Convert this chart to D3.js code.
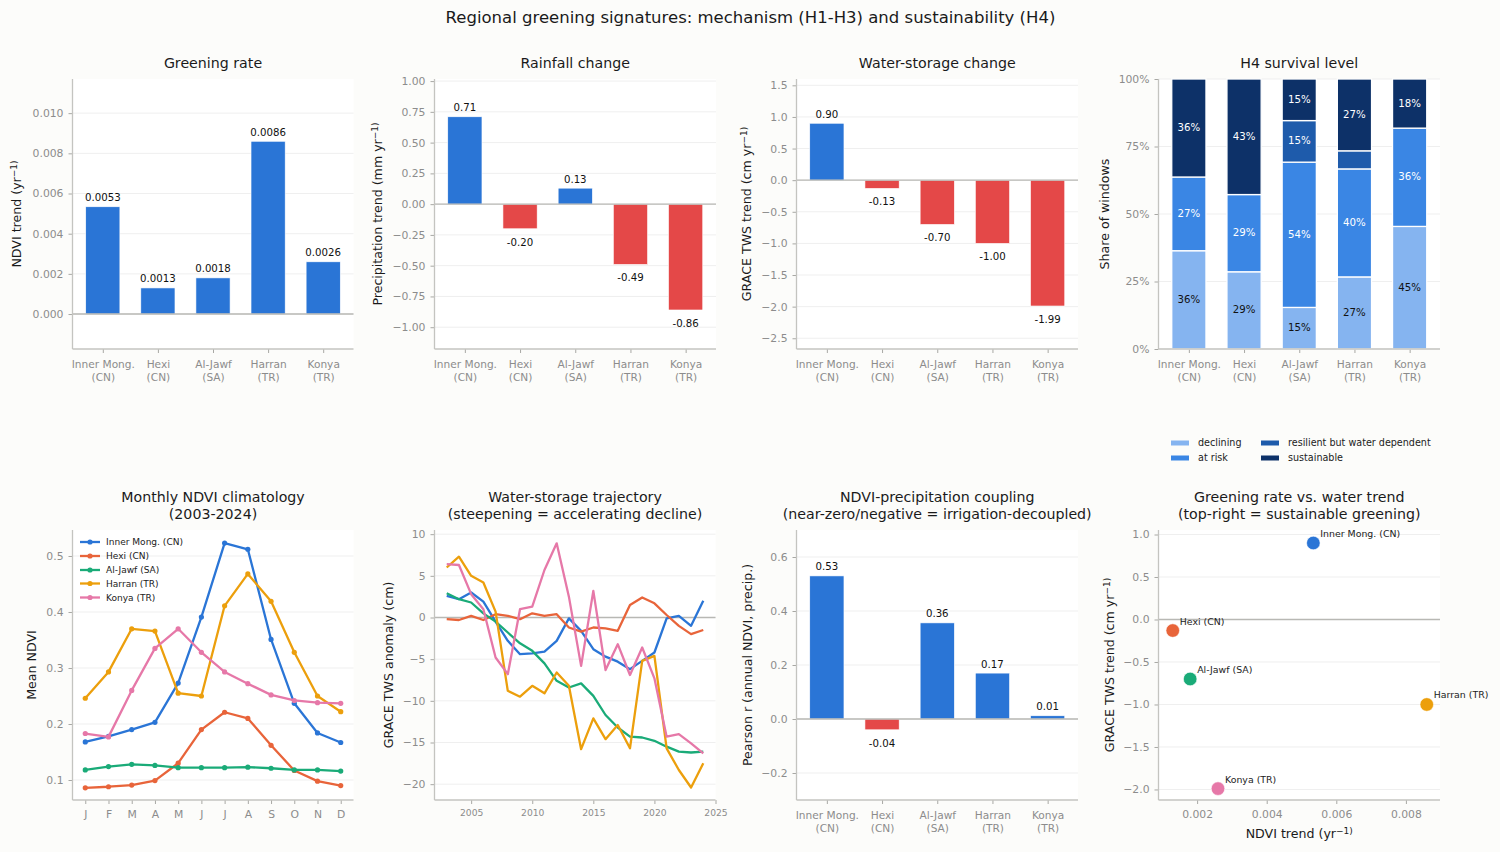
<!DOCTYPE html>
<html><head><meta charset="utf-8">
<script src="https://cdn.jsdelivr.net/npm/d3@7/dist/d3.min.js"></script>
<style>html,body{margin:0;padding:0;background:#fcfcfa}svg{display:block}text{font-family:"DejaVu Sans",sans-serif}</style>
</head><body><svg id="c" width="1500" height="852"></svg>
<script>
const regions = ["Inner Mong.\n(CN)","Hexi\n(CN)","Al-Jawf\n(SA)","Harran\n(TR)","Konya\n(TR)"];
const regionNames = ["Inner Mong. (CN)","Hexi (CN)","Al-Jawf (SA)","Harran (TR)","Konya (TR)"];
const regionColors = ["#2a75d6","#e8643a","#1aab78","#ec9f0c","#e678a8"];
const ndviTrend = [0.00534,0.0013,0.0018,0.0086,0.0026];
const precipTrend = [0.71,-0.20,0.13,-0.49,-0.86];
const twsTrend = [0.90,-0.13,-0.70,-1.00,-1.99];
const coupling = [0.53,-0.04,0.356,0.17,0.012];
const survivalLevels = ["declining","at risk","resilient but water dependent","sustainable"];
const survivalColors = ["#85b4f0","#3a86e4","#1e5bab","#0d3168"];
const declining = [36.4,28.6,15.4,26.7,45.4];
const atRisk = [27.3,28.6,53.8,40.0,36.4];
const resilient = [0,0,15.4,6.7,0];
const sustainable = [36.3,42.8,15.4,26.6,18.2];
const months = ["J","F","M","A","M","J","J","A","S","O","N","D"];
const ndviInner = [.168,.178,.190,.203,.273,.391,.523,.512,.351,.237,.184,.167];
const ndviHexi = [.086,.088,.091,.099,.130,.190,.221,.210,.162,.117,.098,.090];
const ndviJawf = [.118,.124,.128,.126,.122,.122,.122,.123,.121,.118,.118,.116];
const ndviHarran = [.246,.293,.370,.366,.255,.250,.411,.468,.419,.328,.250,.222];
const ndviKonya = [.183,.177,.260,.335,.370,.328,.293,.272,.252,.242,.238,.237];
const years = d3.range(2003,2025);
const twsInner = [2.6,2.2,3.0,1.9,-0.5,-2.8,-4.4,-4.3,-4.1,-2.8,-0.1,-1.6,-3.8,-4.7,-5.3,-6.2,-5.2,-4.2,-0.1,0.2,-1.0,2.0];
const twsHexi = [-0.2,-0.3,0.2,-0.3,0.4,0.2,-0.2,0.5,0.2,0.4,-1.2,-1.7,-1.2,-1.3,-1.6,1.5,2.4,1.7,0.3,-1.0,-2.0,-1.5];
const twsJawf = [2.9,2.2,1.8,0.5,-0.5,-1.8,-3.1,-4.0,-5.5,-7.6,-8.4,-7.9,-9.4,-11.7,-13.2,-14.3,-14.4,-14.8,-15.5,-16.1,-16.2,-16.1];
const twsHarran = [6.0,7.3,5.0,4.2,0.7,-8.8,-9.5,-8.2,-9.1,-6.6,-8.2,-15.8,-12.1,-14.6,-12.9,-15.7,-5.2,-4.6,-15.7,-18.3,-20.4,-17.5];
const twsKonya = [6.4,6.3,2.8,1.0,-4.8,-6.8,1.0,1.3,5.7,8.9,2.5,-5.8,3.2,-6.3,-3.2,-6.9,-3.6,-7.3,-14.3,-14.0,-15.1,-16.3];
const ticksNdvi = [0,.002,.004,.006,.008,.010];
const ticksPrecip = [-1,-.75,-.5,-.25,0,.25,.5,.75,1];
const ticksTws = [-2.5,-2,-1.5,-1,-.5,0,.5,1,1.5];
const ticksShare = [0,25,50,75,100];
const ticksClim = [.1,.2,.3,.4,.5];
const ticksAnom = [-20,-15,-10,-5,0,5,10];
const ticksYear = [2005,2010,2015,2020,2025];
const ticksCoup = [-.2,0,.2,.4,.6];
const ticksScatX = [.002,.004,.006,.008];
const ticksScatY = [-2,-1.5,-1,-.5,0,.5,1];

const GRAY="#8c8c8c", SPINE="#c4c4c0", GRID="#efefef", ZERO="#b8b8b4", INK="#1a1a1a";
const svg=d3.select("#c");
svg.append("rect").attr("width",1500).attr("height",852).attr("fill","#fcfcfa");
svg.append("text").attr("x",750.5).attr("y",22.5).attr("text-anchor","middle").attr("font-size",16.5).attr("fill",INK)
  .text("Regional greening signatures: mechanism (H1-H3) and sustainability (H4)");

function panel(cfg){
  const {x0,x1,y0,y1,xDom,yDom,yTicks,yFmt,title,ylab,ylabX}=cfg;
  const g=svg.append("g");
  g.append("rect").attr("x",x0).attr("y",y0).attr("width",x1-x0).attr("height",y1-y0).attr("fill","#fff");
  const x=d3.scaleLinear().domain(xDom).range([x0,x1]);
  const y=d3.scaleLinear().domain(yDom).range([y1,y0]);
  g.append("g").selectAll("line").data(yTicks).join("line")
    .attr("x1",x0).attr("x2",x1).attr("y1",d=>y(d)).attr("y2",d=>y(d)).attr("stroke",GRID).attr("stroke-width",1);
  const ax=g.append("g").attr("transform",`translate(${x0},0)`)
    .call(d3.axisLeft(y).tickValues(yTicks).tickFormat(yFmt).tickSize(4).tickPadding(5));
  const bx=g.append("g").attr("transform",`translate(0,${y1})`);
  const lines=title.split("\n");
  lines.forEach((t,i)=>g.append("text").attr("x",(x0+x1)/2).attr("y",(lines.length==1?y0-11.5:y0-28+i*17)).attr("text-anchor","middle")
     .attr("font-size",14.2).attr("fill",INK).text(t));
  const yl=g.append("text").attr("transform",`translate(${ylabX},${(y0+y1)/2}) rotate(-90)`).attr("text-anchor","middle").attr("font-size",12.6).attr("fill",INK);
  addLabel(yl,ylab);
  return {g,x,y,ax,bx,x0,x1,y0,y1};
}
function addLabel(sel,lab){
  const m=lab.match(/^(.*)\^(\S+)(.*)$/);
  if(!m){sel.text(lab);return;}
  sel.append("tspan").text(m[1]);
  sel.append("tspan").attr("dy",-4).attr("font-size",9).text(m[2]);
  sel.append("tspan").attr("dy",4).text(m[3]);
}
function styleAxis(a,fs){
  a.select(".domain").remove();
  a.selectAll(".tick line").attr("stroke","#a8a8a4").attr("stroke-width",1);
  a.selectAll(".tick text").attr("fill",GRAY).attr("font-size",fs).attr("font-family",'"DejaVu Sans",sans-serif');
}
function spines(p){
  p.g.append("line").attr("x1",p.x0).attr("x2",p.x0).attr("y1",p.y0).attr("y2",p.y1).attr("stroke",SPINE).attr("stroke-width",1.3);
  p.g.append("line").attr("x1",p.x0).attr("x2",p.x1).attr("y1",p.y1).attr("y2",p.y1).attr("stroke",SPINE).attr("stroke-width",1.3);
}
function zero(p){
  p.g.append("line").attr("x1",p.x0).attr("x2",p.x1).attr("y1",p.y(0)).attr("y2",p.y(0)).attr("stroke",ZERO).attr("stroke-width",1.4);
}
function catAxis(p){
  p.bx.call(d3.axisBottom(p.x).tickValues(d3.range(5)).tickFormat(i=>regions[i]).tickSize(4).tickPadding(7.5));
  styleAxis(p.bx,10.6);
  p.bx.selectAll(".tick text").each(function(i){
    const t=d3.select(this); t.text(null);
    regions[i].split("\n").forEach((s,k)=>t.append("tspan").attr("x",0).attr("dy",k?"13":"0.71em").text(s));
  });
}
const XD=[-0.55,4.55], BW=0.62;
function barPanel(cfg,vals,fmt,neg){
  const p=panel(cfg);
  styleAxis(p.ax,10.8);
  catAxis(p);
  p.g.append("g").selectAll("rect").data(vals).join("rect")
    .attr("x",(d,i)=>p.x(i-BW/2)).attr("width",p.x(BW)-p.x(0))
    .attr("y",d=>Math.min(p.y(d),p.y(0))).attr("height",d=>Math.abs(p.y(d)-p.y(0)))
    .attr("fill",d=>d>=0?regionColors[0]:"#e44848").attr("stroke","#fff").attr("stroke-width",.6);
  zero(p);
  p.g.append("g").selectAll("text").data(vals).join("text")
    .attr("x",(d,i)=>p.x(i)).attr("y",d=>d>=0?p.y(d)-5.5:p.y(d)+neg)
    .attr("text-anchor","middle").attr("font-size",10.2).attr("fill","#111").text(fmt);
  spines(p);
  return p;
}
const f2=d=>d.toFixed(2);
barPanel({x0:72.5,x1:353.5,y0:79,y1:349,xDom:XD,yDom:[-0.00174,0.0117],yTicks:ticksNdvi,yFmt:d3.format(".3f"),title:"Greening rate",ylab:"NDVI trend (yr^−1)",ylabX:21},ndviTrend,d=>d.toFixed(4));
barPanel({x0:434.5,x1:716,y0:79,y1:349,xDom:XD,yDom:[-1.177,1.017],yTicks:ticksPrecip,yFmt:d3.format(".2f"),title:"Rainfall change",ylab:"Precipitation trend (mm yr^−1)",ylabX:382},precipTrend,f2,17);
barPanel({x0:796.5,x1:1078,y0:79,y1:349,xDom:XD,yDom:[-2.67,1.6],yTicks:ticksTws,yFmt:d3.format(".1f"),title:"Water-storage change",ylab:"GRACE TWS trend (cm yr^−1)",ylabX:751},twsTrend,f2,17);

// stacked
{
 const p=panel({x0:1158.5,x1:1440,y0:79,y1:349,xDom:XD,yDom:[0,100],yTicks:ticksShare,yFmt:d=>d+"%",title:"H4 survival level",ylab:"Share of windows",ylabX:1109});
 styleAxis(p.ax,10.8); catAxis(p);
 const rows=regions.map((r,i)=>({i,declining:declining[i],atRisk:atRisk[i],resilient:resilient[i],sustainable:sustainable[i]}));
 const keys=["declining","atRisk","resilient","sustainable"];
 const st=d3.stack().keys(keys)(rows);
 st.forEach((s,k)=>{
  p.g.append("g").selectAll("rect").data(s).join("rect")
   .attr("x",d=>p.x(d.data.i-BW/2)).attr("width",p.x(BW)-p.x(0))
   .attr("y",d=>p.y(d[1])).attr("height",d=>p.y(d[0])-p.y(d[1]))
   .attr("fill",survivalColors[k]).attr("stroke","#fff").attr("stroke-width",d=>d[1]>d[0]?1.3:0);
  p.g.append("g").selectAll("text").data(s.filter(d=>d[1]-d[0]>=8)).join("text")
   .attr("x",d=>p.x(d.data.i)).attr("y",d=>p.y((d[0]+d[1])/2)+3).attr("text-anchor","middle")
   .attr("font-size",10.2).attr("fill",k==0?"#111":"#fff").text(d=>Math.round(d[1]-d[0])+"%");
 });
 spines(p);
 const lg=svg.append("g");
 const lx=[1171,1171,1261,1261], ly=[443,458,443,458];
 survivalLevels.forEach((n,k)=>{
  lg.append("rect").attr("x",lx[k]).attr("y",ly[k]-2.5).attr("width",18).attr("height",5).attr("fill",survivalColors[k]);
  lg.append("text").attr("x",lx[k]+27).attr("y",ly[k]+3.2).attr("font-size",9.6).attr("fill","#222").text(n);
 });
}
// climatology
{
 const p=panel({x0:72.5,x1:353.5,y0:530,y1:800,xDom:[-0.55,11.55],yDom:[.0643,.5464],yTicks:ticksClim,yFmt:d3.format(".1f"),title:"Monthly NDVI climatology\n(2003-2024)",ylab:"Mean NDVI",ylabX:36});
 styleAxis(p.ax,10.8);
 p.bx.call(d3.axisBottom(p.x).tickValues(d3.range(12)).tickFormat(i=>months[i]).tickSize(4).tickPadding(6));
 styleAxis(p.bx,10.8);
 const ser=[ndviInner,ndviHexi,ndviJawf,ndviHarran,ndviKonya];
 const ln=d3.line().x((d,i)=>p.x(i)).y(d=>p.y(d));
 ser.forEach((s,k)=>{
  p.g.append("path").attr("d",ln(s)).attr("fill","none").attr("stroke",regionColors[k]).attr("stroke-width",2.3).attr("stroke-linejoin","round");
  p.g.append("g").selectAll("circle").data(s).join("circle").attr("cx",(d,i)=>p.x(i)).attr("cy",d=>p.y(d)).attr("r",2.6).attr("fill",regionColors[k]);
 });
 spines(p);
 const ly=[542,556,570,583.5,597.5];
 regionNames.forEach((n,k)=>{
  p.g.append("line").attr("x1",80).attr("x2",100).attr("y1",ly[k]).attr("y2",ly[k]).attr("stroke",regionColors[k]).attr("stroke-width",2.3);
  p.g.append("circle").attr("cx",90).attr("cy",ly[k]).attr("r",2.6).attr("fill",regionColors[k]);
  p.g.append("text").attr("x",106).attr("y",ly[k]+3.2).attr("font-size",9.05).attr("fill","#222").text(n);
 });
}
// trajectory
{
 const p=panel({x0:434.5,x1:715.5,y0:530,y1:800,xDom:[2002,2025],yDom:[-21.9,10.5],yTicks:ticksAnom,yFmt:d3.format("d"),title:"Water-storage trajectory\n(steepening = accelerating decline)",ylab:"GRACE TWS anomaly (cm)",ylabX:393});
 styleAxis(p.ax,10.8);
 p.bx.call(d3.axisBottom(p.x).tickValues(ticksYear).tickFormat(d3.format("d")).tickSize(4).tickPadding(5.5));
 styleAxis(p.bx,9.2);
 zero(p);
 const ln=d3.line().x((d,i)=>p.x(years[i])).y(d=>p.y(d));
 [twsInner,twsHexi,twsJawf,twsHarran,twsKonya].forEach((s,k)=>{
  p.g.append("path").attr("d",ln(s)).attr("fill","none").attr("stroke",regionColors[k]).attr("stroke-width",2.3).attr("stroke-linejoin","round");
 });
 spines(p);
}
// coupling
barPanel({x0:796.5,x1:1078,y0:530,y1:800,xDom:XD,yDom:[-.3,.7],yTicks:ticksCoup,yFmt:d3.format(".1f"),title:"NDVI-precipitation coupling\n(near-zero/negative = irrigation-decoupled)",ylab:"Pearson r (annual NDVI, precip.)",ylabX:752},coupling,f2,17);
// scatter
{
 const p=panel({x0:1158.5,x1:1440,y0:530,y1:800,xDom:[.00089,.00898],yDom:[-2.124,1.053],yTicks:ticksScatY,yFmt:d3.format(".1f"),title:"Greening rate vs. water trend\n(top-right = sustainable greening)",ylab:"GRACE TWS trend (cm yr^−1)",ylabX:1114});
 styleAxis(p.ax,10.8);
 p.bx.call(d3.axisBottom(p.x).tickValues(ticksScatX).tickFormat(d3.format(".3f")).tickSize(4).tickPadding(6));
 styleAxis(p.bx,10.8);
 zero(p);
 p.g.append("g").selectAll("circle").data(ndviTrend).join("circle").attr("cx",d=>p.x(d)).attr("cy",(d,i)=>p.y(twsTrend[i])).attr("r",6.8).attr("fill",(d,i)=>regionColors[i]).attr("stroke","#fff").attr("stroke-width",.6);
 p.g.append("g").selectAll("text").data(ndviTrend).join("text").attr("x",d=>p.x(d)+7).attr("y",(d,i)=>p.y(twsTrend[i])-6).attr("font-size",9.4).attr("fill","#222").text((d,i)=>regionNames[i]);
 spines(p);
 const xl=p.g.append("text").attr("x",(p.x0+p.x1)/2).attr("y",838).attr("text-anchor","middle").attr("font-size",12.6).attr("fill",INK);
 addLabel(xl,"NDVI trend (yr^−1)");
}
</script></body></html>
